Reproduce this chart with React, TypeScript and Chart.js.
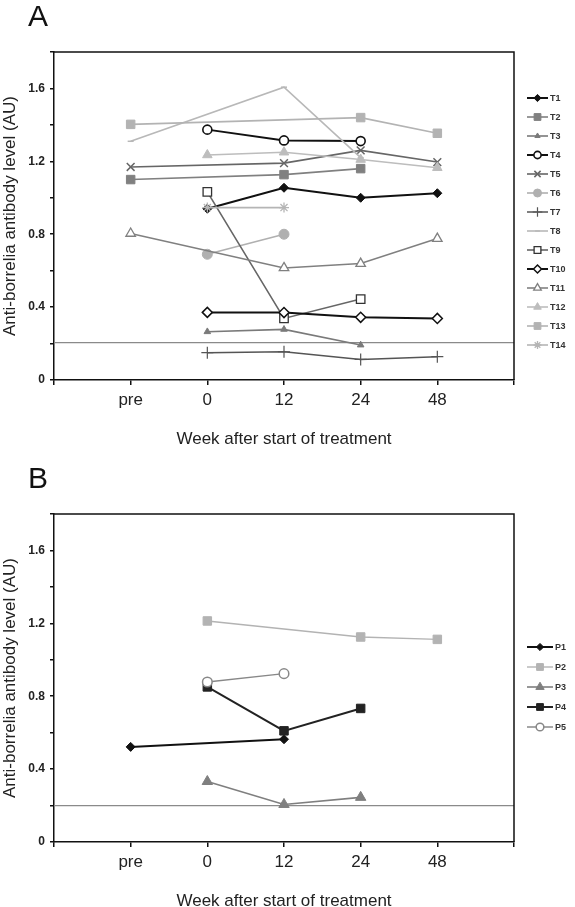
import React, { useEffect, useRef } from 'react';
import { Chart, registerables } from 'chart.js';
import { drawPoint } from 'chart.js/helpers';

Chart.register(...registerables);

const FONT = "'Liberation Sans', Arial, Helvetica, sans-serif";

// ---- shared axis data ----
const weekLabels = ['pre', '0', '12', '24', '48'];
const yMin = 0;
const yMax = 1.8;
const yStep = 0.2;
const yLabelStep = 0.4;

// ---- Panel A (T1..T14), values per week: pre, 0, 12, 24, 48 ----
const namesA = ['T1', 'T2', 'T3', 'T4', 'T5', 'T6', 'T7', 'T8', 'T9', 'T10', 'T11', 'T12', 'T13', 'T14'];
const T1 = [null, 0.94, 1.055, 1.0, 1.025];
const T2 = [1.1, null, 1.127, 1.16, null];
const T3 = [null, 0.265, 0.278, 0.192, null];
const T4 = [null, 1.374, 1.315, 1.311, null];
const T5 = [1.169, null, 1.19, 1.26, 1.196];
const T6 = [null, 0.69, 0.8, null, null];
const T7 = [null, 0.15, 0.155, 0.113, 0.128];
const T8 = [1.31, null, 1.607, 1.22, null];
const T9 = [null, 1.032, 0.338, 0.444, null];
const T10 = [null, 0.371, 0.37, 0.344, 0.338];
const T11 = [0.804, null, 0.615, 0.639, 0.776];
const T12 = [null, 1.235, 1.25, 1.21, 1.165];
const T13 = [1.403, null, null, 1.44, 1.354];
const T14 = [null, 0.946, 0.946, null, null];
const thresholdA = 0.205;

// ---- Panel B (P1..P5) ----
const namesB = ['P1', 'P2', 'P3', 'P4', 'P5'];
const P1 = [0.522, null, 0.564, null, null];
const P2 = [null, 1.213, null, 1.125, 1.112];
const P3 = [null, 0.332, 0.206, 0.245, null];
const P4 = [null, 0.851, 0.61, 0.733, null];
const P5 = [null, 0.878, 0.924, null, null];
const thresholdB = 0.2;

type Sty = { line: string; lw: number; ps: string; r: number; fill: string; edge: string; bw: number };

const BLK = '#111111';
const stylesA: Sty[] = [
  { line: BLK, lw: 2, ps: 'rectRot', r: 4.5, fill: BLK, edge: BLK, bw: 1 },
  { line: '#808080', lw: 1.6, ps: 'rect', r: 6, fill: '#808080', edge: '#808080', bw: 1 },
  { line: '#7a7a7a', lw: 1.6, ps: 'triangle', r: 3.8, fill: '#7a7a7a', edge: '#7a7a7a', bw: 1 },
  { line: BLK, lw: 2, ps: 'circle', r: 4.5, fill: '#ffffff', edge: BLK, bw: 1.6 },
  { line: '#666666', lw: 1.6, ps: 'crossRot', r: 5.5, fill: '#666666', edge: '#666666', bw: 1.5 },
  { line: '#b0b0b0', lw: 1.6, ps: 'circle', r: 5, fill: '#b0b0b0', edge: '#b0b0b0', bw: 1 },
  { line: '#555555', lw: 1.5, ps: 'cross', r: 6, fill: '#555555', edge: '#555555', bw: 1.2 },
  { line: '#b8b8b8', lw: 1.6, ps: 'line', r: 3, fill: '#b8b8b8', edge: '#b8b8b8', bw: 1.5 },
  { line: '#666666', lw: 1.6, ps: 'rect', r: 6, fill: '#ffffff', edge: '#333333', bw: 1.3 },
  { line: BLK, lw: 2, ps: 'rectRot', r: 5, fill: '#ffffff', edge: BLK, bw: 1.5 },
  { line: '#808080', lw: 1.6, ps: 'triangle', r: 5.5, fill: '#ffffff', edge: '#808080', bw: 1.3 },
  { line: '#bdbdbd', lw: 1.6, ps: 'triangle', r: 5.5, fill: '#bdbdbd', edge: '#bdbdbd', bw: 1 },
  { line: '#b3b3b3', lw: 1.6, ps: 'rect', r: 6, fill: '#b3b3b3', edge: '#b3b3b3', bw: 1 },
  { line: '#b5b5b5', lw: 1.6, ps: 'star', r: 5, fill: '#b5b5b5', edge: '#b5b5b5', bw: 1.3 },
];
const stylesB: Sty[] = [
  { line: BLK, lw: 2, ps: 'rectRot', r: 4.5, fill: BLK, edge: BLK, bw: 1 },
  { line: '#b3b3b3', lw: 1.4, ps: 'rect', r: 6, fill: '#b3b3b3', edge: '#b3b3b3', bw: 1 },
  { line: '#7f7f7f', lw: 1.6, ps: 'triangle', r: 6, fill: '#7f7f7f', edge: '#7f7f7f', bw: 1 },
  { line: '#222222', lw: 2, ps: 'rect', r: 6, fill: '#222222', edge: '#222222', bw: 1 },
  { line: '#888888', lw: 1.5, ps: 'circle', r: 4.8, fill: '#ffffff', edge: '#888888', bw: 1.5 },
];

function toPoints(vals: (number | null)[]) {
  const out: { x: number; y: number }[] = [];
  vals.forEach((v, i) => {
    if (v !== null) out.push({ x: i + 1, y: v });
  });
  return out;
}

function makeDatasets(names: string[], series: (number | null)[][], styles: Sty[], threshold: number) {
  const ds: any[] = series.map((vals, i) => {
    const s = styles[i];
    return {
      label: names[i],
      data: toPoints(vals),
      borderColor: s.line,
      borderWidth: s.lw,
      pointStyle: s.ps,
      pointRadius: s.r,
      pointHoverRadius: s.r,
      pointBackgroundColor: s.fill,
      pointBorderColor: s.edge,
      pointBorderWidth: s.bw,
      tension: 0,
      fill: false,
      order: series.length - i,
    };
  });
  ds.push({
    label: '',
    isRef: true,
    data: [
      { x: 0, y: threshold },
      { x: 6, y: threshold },
    ],
    borderColor: '#8a8a8a',
    borderWidth: 1.3,
    pointRadius: 0,
    pointHoverRadius: 0,
    fill: false,
    order: 100,
  });
  return ds;
}

const framePlugin = {
  id: 'excelFrame',
  afterDraw(chart: any) {
    const { ctx, chartArea } = chart;
    const { left, right, top, bottom } = chartArea;
    ctx.save();
    ctx.strokeStyle = '#111111';
    ctx.lineWidth = 1.5;
    ctx.beginPath();
    ctx.moveTo(left, top);
    ctx.lineTo(right, top);
    ctx.lineTo(right, bottom);
    ctx.stroke();

    const o = chart.options.plugins.excelLegend;
    if (o) {
      let idx = 0;
      chart.data.datasets.forEach((ds: any) => {
        if (ds.isRef) return;
        const y = o.y0 + idx * o.step;
        idx++;
        ctx.strokeStyle = ds.borderColor;
        ctx.lineWidth = ds.borderWidth;
        ctx.beginPath();
        ctx.moveTo(o.x1, y);
        ctx.lineTo(o.x2, y);
        ctx.stroke();
        ctx.fillStyle = ds.pointBackgroundColor;
        ctx.strokeStyle = ds.pointBorderColor;
        ctx.lineWidth = ds.pointBorderWidth;
        drawPoint(
          ctx,
          { pointStyle: ds.pointStyle, radius: ds.pointRadius * 0.8, rotation: 0, borderWidth: ds.pointBorderWidth } as any,
          (o.x1 + o.x2) / 2,
          y
        );
        ctx.fillStyle = '#333333';
        ctx.font = `bold 9px ${FONT}`;
        ctx.textAlign = 'left';
        ctx.textBaseline = 'middle';
        ctx.fillText(ds.label, o.tx, y + 0.5);
      });
    }
    ctx.restore();
  },
};

function yTickLabel(v: any) {
  const r = Math.round(Number(v) * 10) / 10;
  const q = r / yLabelStep;
  if (Math.abs(q - Math.round(q)) < 1e-6) return r === 0 ? '0' : r.toFixed(1);
  return '';
}

function xTickLabel(v: any) {
  const i = Math.round(Number(v));
  return i >= 1 && i <= weekLabels.length ? weekLabels[i - 1] : '';
}

function buildConfig(datasets: any[], legend: any): any {
  return {
    type: 'line',
    data: { datasets },
    plugins: [framePlugin],
    options: {
      responsive: false,
      animation: false,
      devicePixelRatio: 1,
      events: [],
      layout: { padding: { top: 52, right: 61, left: 0, bottom: 0 } },
      plugins: {
        legend: { display: false },
        tooltip: { enabled: false },
        excelLegend: legend,
      },
      scales: {
        x: {
          type: 'linear',
          min: 0,
          max: 6,
          afterFit: (s: any) => {
            s.height = 82;
          },
          ticks: {
            stepSize: 1,
            autoSkip: false,
            maxRotation: 0,
            padding: 5,
            color: '#222222',
            font: { family: FONT, size: 17 },
            callback: xTickLabel,
          },
          grid: { display: true, drawOnChartArea: false, drawTicks: true, tickLength: 5, color: '#111111', lineWidth: 1.5 },
          border: { display: true, color: '#111111', width: 1.5 },
          title: {
            display: true,
            text: 'Week after start of treatment',
            color: '#222222',
            font: { family: FONT, size: 17 },
            padding: { top: 0, bottom: 12 },
          },
        },
        y: {
          type: 'linear',
          min: yMin,
          max: yMax,
          afterFit: (s: any) => {
            s.width = 54;
          },
          ticks: {
            stepSize: yStep,
            autoSkip: false,
            padding: 5,
            color: '#222222',
            font: { family: FONT, size: 12, weight: 'bold' },
            callback: yTickLabel,
          },
          grid: { display: true, drawOnChartArea: false, drawTicks: true, tickLength: 4, color: '#111111', lineWidth: 1.5 },
          border: { display: true, color: '#111111', width: 1.5 },
          title: {
            display: true,
            text: 'Anti-borrelia antibody level (AU)',
            color: '#222222',
            font: { family: FONT, size: 17 },
            padding: { top: 0, bottom: 0 },
          },
        },
      },
    },
  };
}

function Panel(props: { letter: string; top: number; datasets: any[]; legend: any }) {
  const ref = useRef<HTMLCanvasElement>(null);
  useEffect(() => {
    const chart = new Chart(ref.current as HTMLCanvasElement, buildConfig(props.datasets, props.legend));
    return () => chart.destroy();
  }, []);
  return (
    <div style={{ position: 'absolute', left: 0, top: props.top, width: 575, height: 462 }}>
      <canvas ref={ref} width={575} height={462} style={{ display: 'block', width: 575, height: 462 }} />
      <div
        style={{
          position: 'absolute',
          left: 28,
          top: 1,
          fontFamily: FONT,
          fontSize: 30,
          lineHeight: 1,
          color: '#111111',
        }}
      >
        {props.letter}
      </div>
    </div>
  );
}

export default function App() {
  const dsA = makeDatasets(namesA, [T1, T2, T3, T4, T5, T6, T7, T8, T9, T10, T11, T12, T13, T14], stylesA, thresholdA);
  const dsB = makeDatasets(namesB, [P1, P2, P3, P4, P5], stylesB, thresholdB);
  return (
    <div style={{ position: 'absolute', left: 0, top: 0, width: 575, height: 907, overflow: 'hidden', background: '#ffffff' }}>
      <Panel letter="A" top={0} datasets={dsA} legend={{ x1: 527, x2: 548, tx: 550, y0: 98, step: 19 }} />
      <Panel letter="B" top={462} datasets={dsB} legend={{ x1: 527, x2: 553, tx: 555, y0: 185, step: 20 }} />
    </div>
  );
}
